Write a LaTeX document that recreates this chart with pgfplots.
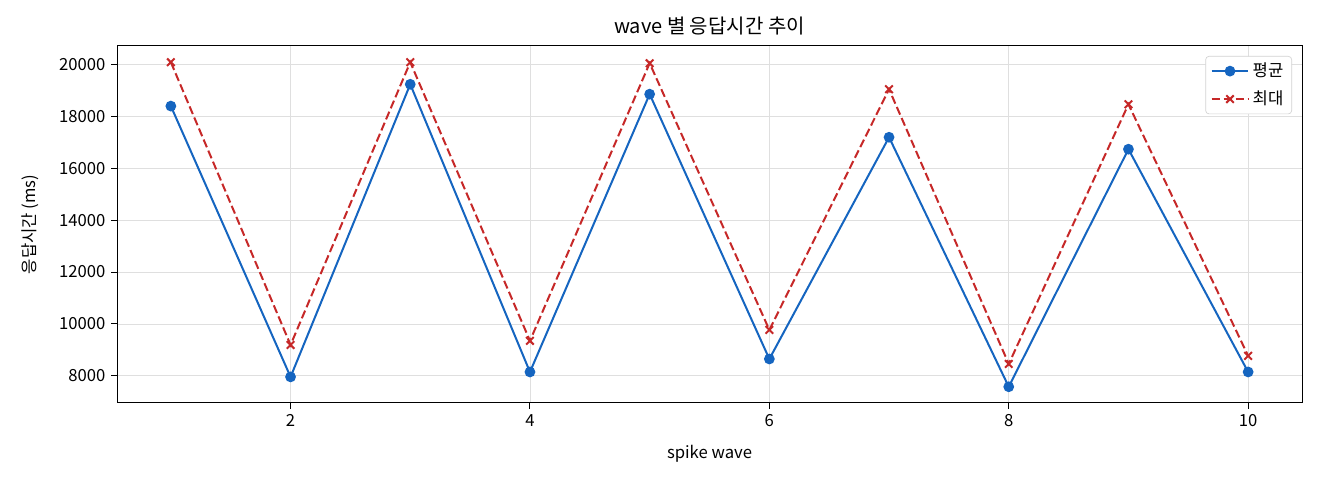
\documentclass[border=0pt]{standalone}
\usepackage{fontspec}
\setmainfont{Noto Sans CJK KR}
\usepackage{pgfplots}
\pgfplotsset{compat=1.18}
\usetikzlibrary{calc}

\definecolor{avgblue}{HTML}{1565C0}
\definecolor{maxred}{HTML}{C62828}

\pgfplotsset{
  longline/.style={
    legend image code/.code={
      \draw[mark repeat=2, mark phase=2, ##1]
        plot coordinates {(0pt,0pt) (11pt,0pt) (22pt,0pt)};
    }
  }
}

\begin{document}
\fontsize{10}{12}\selectfont
\begin{tikzpicture}
  \begin{axis}[
      name=ax,
      scale only axis,
      width=711pt, height=214.2pt,
      xmin=0.55, xmax=10.45,
      ymin=6955, ymax=20705,
      xtick={2,4,6,8,10},
      ytick={8000,10000,12000,14000,16000,18000,20000},
      scaled y ticks=false,
      yticklabel style={/pgf/number format/fixed, /pgf/number format/1000 sep={}},
      /pgf/number format/1000 sep={},
      /pgf/number format/assume math mode=true,
      tick align=outside,
      tick style={black, line width=0.6pt},
      major tick length=3.5pt,
      xtick pos=bottom, ytick pos=left,
      grid=major,
      grid style={gray!25, line width=0.5pt},
      axis line style={line width=0.6pt},
      title={wave 별 응답시간 추이},
      title style={font=\fontsize{12}{14}\selectfont, yshift=-3pt},
      xlabel={spike wave},
      ylabel={응답시간 (ms)},
      xlabel style={yshift=-4pt},
      ylabel style={yshift=5pt},
      legend style={at={(1,1)}, anchor=north east, xshift=-6pt, yshift=-6pt,
        draw=gray!35, rounded corners=2pt, row sep=3pt,
        font=\fontsize{10}{12}\selectfont},
      legend cell align=left,
    ]
    \addplot[avgblue, line width=1.2pt, mark=*, mark size=2.6pt, longline] coordinates {
      (1,18390) (2,7960) (3,19230) (4,8150) (5,18850)
      (6,8650) (7,17190) (8,7580) (9,16730) (10,8150)
    };
    \addlegendentry{평균}
    \addplot[maxred, line width=1.2pt, dash pattern=on 5pt off 2.2pt, mark=x, mark size=3.2pt,
      mark options={solid}, longline] coordinates {
      (1,20080) (2,9190) (3,20080) (4,9350) (5,20040)
      (6,9770) (7,19040) (8,8460) (9,18460) (10,8770)
    };
    \addlegendentry{최대}
  \end{axis}
  \path ($(ax.south west)+(-70.2pt,-46.2pt)$) rectangle ($(ax.north east)+(10.8pt,27.6pt)$);
\end{tikzpicture}
\end{document}
